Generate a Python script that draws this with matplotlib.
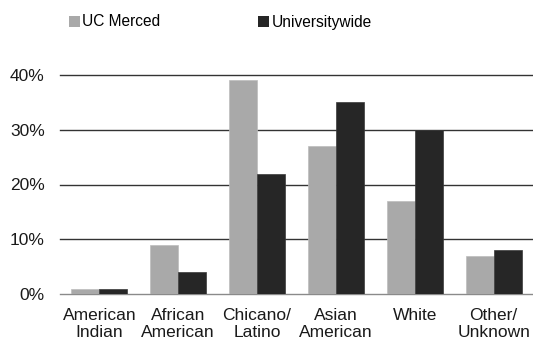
import numpy as np
import matplotlib

matplotlib.use("Agg")
import matplotlib.pyplot as plt
from matplotlib.patches import Patch

categories = ["American\nIndian", "African\nAmerican", "Chicano/\nLatino",
              "Asian\nAmerican", "White", "Other/\nUnknown"]
uc_merced = [1, 9, 39, 27, 17, 7]
universitywide = [1, 4, 22, 35, 30, 8]
yticks = [0, 10, 20, 30, 40]

plt.rcParams.update({
    "font.family": ["Liberation Sans", "DejaVu Sans"],
    "font.size": 12.5,
})

LIGHT = "#A9A9A9"
DARK = "#262626"

fig = plt.figure(figsize=(5.33, 3.42), dpi=100)
ax = fig.add_axes([60 / 533, 1 - 294 / 342, 473 / 533, (294 - 75) / 342])

x = np.arange(len(categories))
w = 0.355
ax.bar(x - w / 2, uc_merced, w, color=LIGHT, edgecolor="#BDBDBD", linewidth=0.5, zorder=3)
ax.bar(x + w / 2, universitywide, w, color=DARK, edgecolor="#3A3A3A", linewidth=0.5, zorder=3)

ax.set_xlim(-0.5, len(categories) - 0.5)
ax.set_ylim(0, 40)
ax.set_yticks(yticks)
ax.set_yticklabels([f"{v}%" for v in yticks])
ax.set_xticks(x)
ax.set_xticklabels(categories, linespacing=1.2)
ax.tick_params(axis="y", length=0, pad=11, labelcolor="#1a1a1a")
ax.tick_params(axis="x", length=0, pad=10, labelcolor="#1a1a1a")

for v in yticks[1:]:
    ax.axhline(v, color="#333333", linewidth=1.0, zorder=1, clip_on=False)

for s in ["top", "right", "left"]:
    ax.spines[s].set_visible(False)
ax.spines["bottom"].set_color("#8a8a8a")
ax.spines["bottom"].set_linewidth(1.0)

handles = [Patch(facecolor=LIGHT, edgecolor="none", label="UC Merced"),
           Patch(facecolor=DARK, edgecolor="none", label="Universitywide")]
fig.legend(handles=handles, loc="center left", bbox_to_anchor=(69 / 533, 1 - 22 / 342),
           ncol=2, frameon=False, borderpad=0, borderaxespad=0,
           handlelength=0.72, handleheight=0.72, handletextpad=0.12,
           columnspacing=6.3, fontsize=11.2)

fig.savefig("out.png", dpi=100)
plt.close(fig)
